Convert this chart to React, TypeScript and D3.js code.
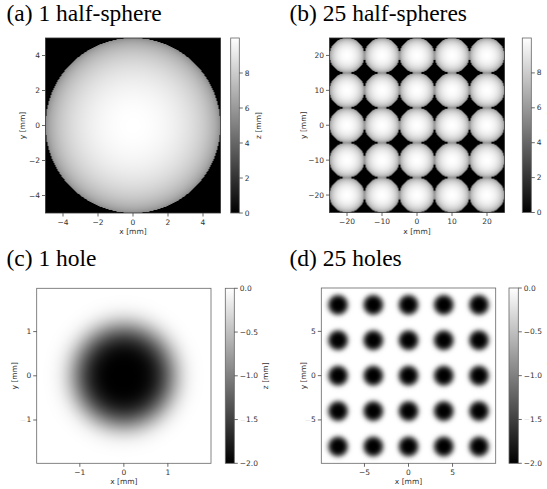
import React, { useMemo } from "react";
import * as d3 from "d3";

const W = 547;
const H = 489;

// Surface geometry (mm)
const sphereCentersA: [number, number][] = [[0, 0]];
const sphereGridB = [-20, -10, 0, 10, 20];
const sphereRadius = 5;
const sphereBase = 5;
const holeCentersC: [number, number][] = [[0, 0]];
const holeGridD = [-8, -4, 0, 4, 8];
const holeDepth = 2;
const holeRadius = 1.15;
const holeEdgePower = 4;

// Axis and colorbar ticks
const ticksA = [-4, -2, 0, 2, 4];
const ticksB = [-20, -10, 0, 10, 20];
const ticksC = [-1, 0, 1];
const ticksD = [-5, 0, 5];
const cbarTicksSphere = [0, 2, 4, 6, 8];
const cbarTicksHole = [0, -0.5, -1, -1.5, -2];
const zDomainSphere: [number, number] = [0, 10];
const zDomainHole: [number, number] = [-2, 0];

const titles = ["(a) 1 half-sphere", "(b) 25 half-spheres", "(c) 1 hole", "(d) 25 holes"];

const gridCenters = (g: number[]): [number, number][] =>
  g.flatMap((y) => g.map((x) => [x, y] as [number, number]));

const sphereZ = (centers: [number, number][]) => (x: number, y: number) => {
  let z = 0;
  for (const [cx, cy] of centers) {
    const r2 = (x - cx) ** 2 + (y - cy) ** 2;
    if (r2 <= sphereRadius * sphereRadius) {
      z = Math.max(z, sphereBase + Math.sqrt(sphereRadius * sphereRadius - r2));
    }
  }
  return z;
};

const holeZ = (centers: [number, number][]) => (x: number, y: number) => {
  let z = 0;
  for (const [cx, cy] of centers) {
    const r = Math.sqrt((x - cx) ** 2 + (y - cy) ** 2);
    z = Math.min(z, -holeDepth * Math.exp(-Math.pow(r / holeRadius, holeEdgePower)));
  }
  return z;
};

type Panel = {
  title: string;
  tx: number;
  ty: number;
  box: [number, number, number, number];
  xDom: [number, number];
  yDom: [number, number];
  ticks: number[];
  z: (x: number, y: number) => number;
  zDom: [number, number];
  cbar: [number, number];
  cbarTicks: number[];
  cbarFmt: (v: number) => string;
  yLabelX: number;
  zLabelX: number;
  faint: string[];
  cbarFaint: string[];
  frame: boolean;
};

const intFmt = (v: number) => (v < 0 ? "\u2212" + Math.abs(v) : String(v));
const decFmt = (v: number) => (v < 0 ? "\u2212" + Math.abs(v).toFixed(1) : v.toFixed(1));

const panels: Panel[] = [
  {
    title: titles[0], tx: 6.5, ty: 21,
    box: [45.5, 220.5, 38, 213], xDom: [-5, 5], yDom: [-5, 5], ticks: ticksA,
    z: sphereZ(sphereCentersA), zDom: zDomainSphere, cbar: [230.7, 239.3],
    cbarTicks: cbarTicksSphere, cbarFmt: intFmt,
    yLabelX: 22.3, zLabelX: 258.5, faint: [], cbarFaint: [], frame: false,
  },
  {
    title: titles[1], tx: 289.5, ty: 21,
    box: [329.5, 504.5, 38, 212.5], xDom: [-25, 25], yDom: [-25, 25], ticks: ticksB,
    z: sphereZ(gridCenters(sphereGridB)), zDom: zDomainSphere, cbar: [522.3, 531.3],
    cbarTicks: cbarTicksSphere, cbarFmt: intFmt,
    yLabelX: 303, zLabelX: 550.5, faint: [], cbarFaint: [], frame: false,
  },
  {
    title: titles[2], tx: 6.5, ty: 266,
    box: [36.7, 211, 288.3, 463.3], xDom: [-1.98, 1.98], yDom: [-1.98, 1.98], ticks: ticksC,
    z: holeZ(holeCentersC), zDom: zDomainHole, cbar: [225.3, 234.3],
    cbarTicks: cbarTicksHole, cbarFmt: decFmt,
    yLabelX: 14.3, zLabelX: 265.5, faint: ["y-1"], cbarFaint: ["-1.5"], frame: true,
  },
  {
    title: titles[3], tx: 289.5, ty: 266,
    box: [321.3, 495.7, 288, 463.3], xDom: [-9.9, 9.9], yDom: [-9.9, 9.9], ticks: ticksD,
    z: holeZ(gridCenters(holeGridD)), zDom: zDomainHole, cbar: [509, 518.3],
    cbarTicks: cbarTicksHole, cbarFmt: decFmt,
    yLabelX: 303, zLabelX: 550, faint: ["y-5"], cbarFaint: ["-1.5"], frame: true,
  },
];

const greyScale = (dom: [number, number]) =>
  d3.scaleLinear<string>().domain(dom).range(["#000000", "#ffffff"]).interpolate(d3.interpolateRgb).clamp(true);

function rasterize(p: Panel): string {
  const [x0, x1, y0, y1] = p.box;
  const w = Math.round(x1 - x0);
  const h = Math.round(y1 - y0);
  const xs = d3.scaleLinear().domain(p.xDom).range([0, w]);
  const ys = d3.scaleLinear().domain(p.yDom).range([h, 0]);
  const color = greyScale(p.zDom);
  const canvas = document.createElement("canvas");
  canvas.width = w;
  canvas.height = h;
  const ctx = canvas.getContext("2d");
  if (!ctx) return "";
  const img = ctx.createImageData(w, h);
  for (let j = 0; j < h; j++) {
    const y = ys.invert(j + 0.5);
    for (let i = 0; i < w; i++) {
      const x = xs.invert(i + 0.5);
      const c = d3.rgb(color(p.z(x, y)));
      const k = (j * w + i) * 4;
      img.data[k] = c.r;
      img.data[k + 1] = c.g;
      img.data[k + 2] = c.b;
      img.data[k + 3] = 255;
    }
  }
  ctx.putImageData(img, 0, 0);
  return canvas.toDataURL();
}

const TEXT = "#333";
const TICK = "#444";
const SPINE = "#666";
const FONT = "'DejaVu Sans', sans-serif";
const FS = 7.5;

function Label({ x, y, text, faint, anchor }: { x: number; y: number; text: string; faint: boolean; anchor: string }) {
  const hasMinus = text.startsWith("\u2212");
  return (
    <text x={x} y={y} textAnchor={anchor} dominantBaseline="central" fontFamily={FONT} fontSize={FS} fill={TEXT}>
      {hasMinus ? (
        <>
          <tspan fill={faint ? "#e4e4e4" : TEXT}>{"\u2212"}</tspan>
          {text.slice(1)}
        </>
      ) : (
        text
      )}
    </text>
  );
}

function PanelView({ p }: { p: Panel }) {
  const href = useMemo(() => rasterize(p), [p]);
  const [x0, x1, y0, y1] = p.box;
  const xs = d3.scaleLinear().domain(p.xDom).range([x0, x1]);
  const ys = d3.scaleLinear().domain(p.yDom).range([y1, y0]);
  const [c0, c1] = p.cbar;
  const zs = d3.scaleLinear().domain(p.zDom).range([y1, y0]);
  const color = greyScale(p.zDom);
  const gid = `grad-${p.title.replace(/[^a-z0-9]/gi, "")}`;
  const stops = d3.range(0, 1.0001, 0.1);
  return (
    <g>
      <text x={p.tx} y={p.ty} fontFamily="'Liberation Serif', 'Times New Roman', serif" fontSize={23.5} fill="#000">
        {p.title}
      </text>
      <image href={href} x={x0} y={y0} width={x1 - x0} height={y1 - y0} preserveAspectRatio="none" />
      <rect x={x0} y={y0} width={x1 - x0} height={y1 - y0} fill="none" stroke={p.frame ? SPINE : "#333"} strokeWidth={0.8} />
      {p.ticks.map((t) => (
        <g key={`x${t}`}>
          <line x1={xs(t)} x2={xs(t)} y1={y1} y2={y1 + 3.5} stroke={TICK} strokeWidth={0.8} />
          <Label x={xs(t)} y={y1 + 9} text={intFmt(t)} faint={p.faint.includes(`x${t}`)} anchor="middle" />
        </g>
      ))}
      {p.ticks.map((t) => (
        <g key={`y${t}`}>
          <line x1={x0 - 3.5} x2={x0} y1={ys(t)} y2={ys(t)} stroke={TICK} strokeWidth={0.8} />
          <Label x={x0 - 5.5} y={ys(t)} text={intFmt(t)} faint={p.faint.includes(`y${t}`)} anchor="end" />
        </g>
      ))}
      <text x={(x0 + x1) / 2} y={y1 + 18.5} textAnchor="middle" dominantBaseline="central" fontFamily={FONT} fontSize={FS} fill={TEXT}>
        x [mm]
      </text>
      <text transform={`translate(${p.yLabelX},${(y0 + y1) / 2}) rotate(-90)`} textAnchor="middle" dominantBaseline="central" fontFamily={FONT} fontSize={FS} fill={TEXT}>
        y [mm]
      </text>
      <defs>
        <linearGradient id={gid} x1="0" y1="1" x2="0" y2="0">
          {stops.map((s) => (
            <stop key={s} offset={s} stopColor={color(p.zDom[0] + s * (p.zDom[1] - p.zDom[0]))} />
          ))}
        </linearGradient>
      </defs>
      <rect x={c0} y={y0} width={c1 - c0} height={y1 - y0} fill={`url(#${gid})`} stroke={SPINE} strokeWidth={0.8} />
      {p.cbarTicks.map((t) => (
        <g key={`c${t}`}>
          <line x1={c1} x2={c1 + 3.5} y1={zs(t)} y2={zs(t)} stroke={TICK} strokeWidth={0.8} />
          <Label x={c1 + 5.5} y={zs(t)} text={p.cbarFmt(t)} faint={p.cbarFaint.includes(String(t))} anchor="start" />
        </g>
      ))}
      <text transform={`translate(${p.zLabelX},${(y0 + y1) / 2}) rotate(-90)`} textAnchor="middle" dominantBaseline="central" fontFamily={FONT} fontSize={FS} fill={TEXT}>
        z [mm]
      </text>
    </g>
  );
}

export default function App() {
  return (
    <svg width={W} height={H} viewBox={`0 0 ${W} ${H}`} style={{ position: "absolute", left: 0, top: 0, background: "#fff" }}>
      <rect width={W} height={H} fill="#fff" />
      {panels.map((p) => (
        <PanelView key={p.title} p={p} />
      ))}
    </svg>
  );
}
